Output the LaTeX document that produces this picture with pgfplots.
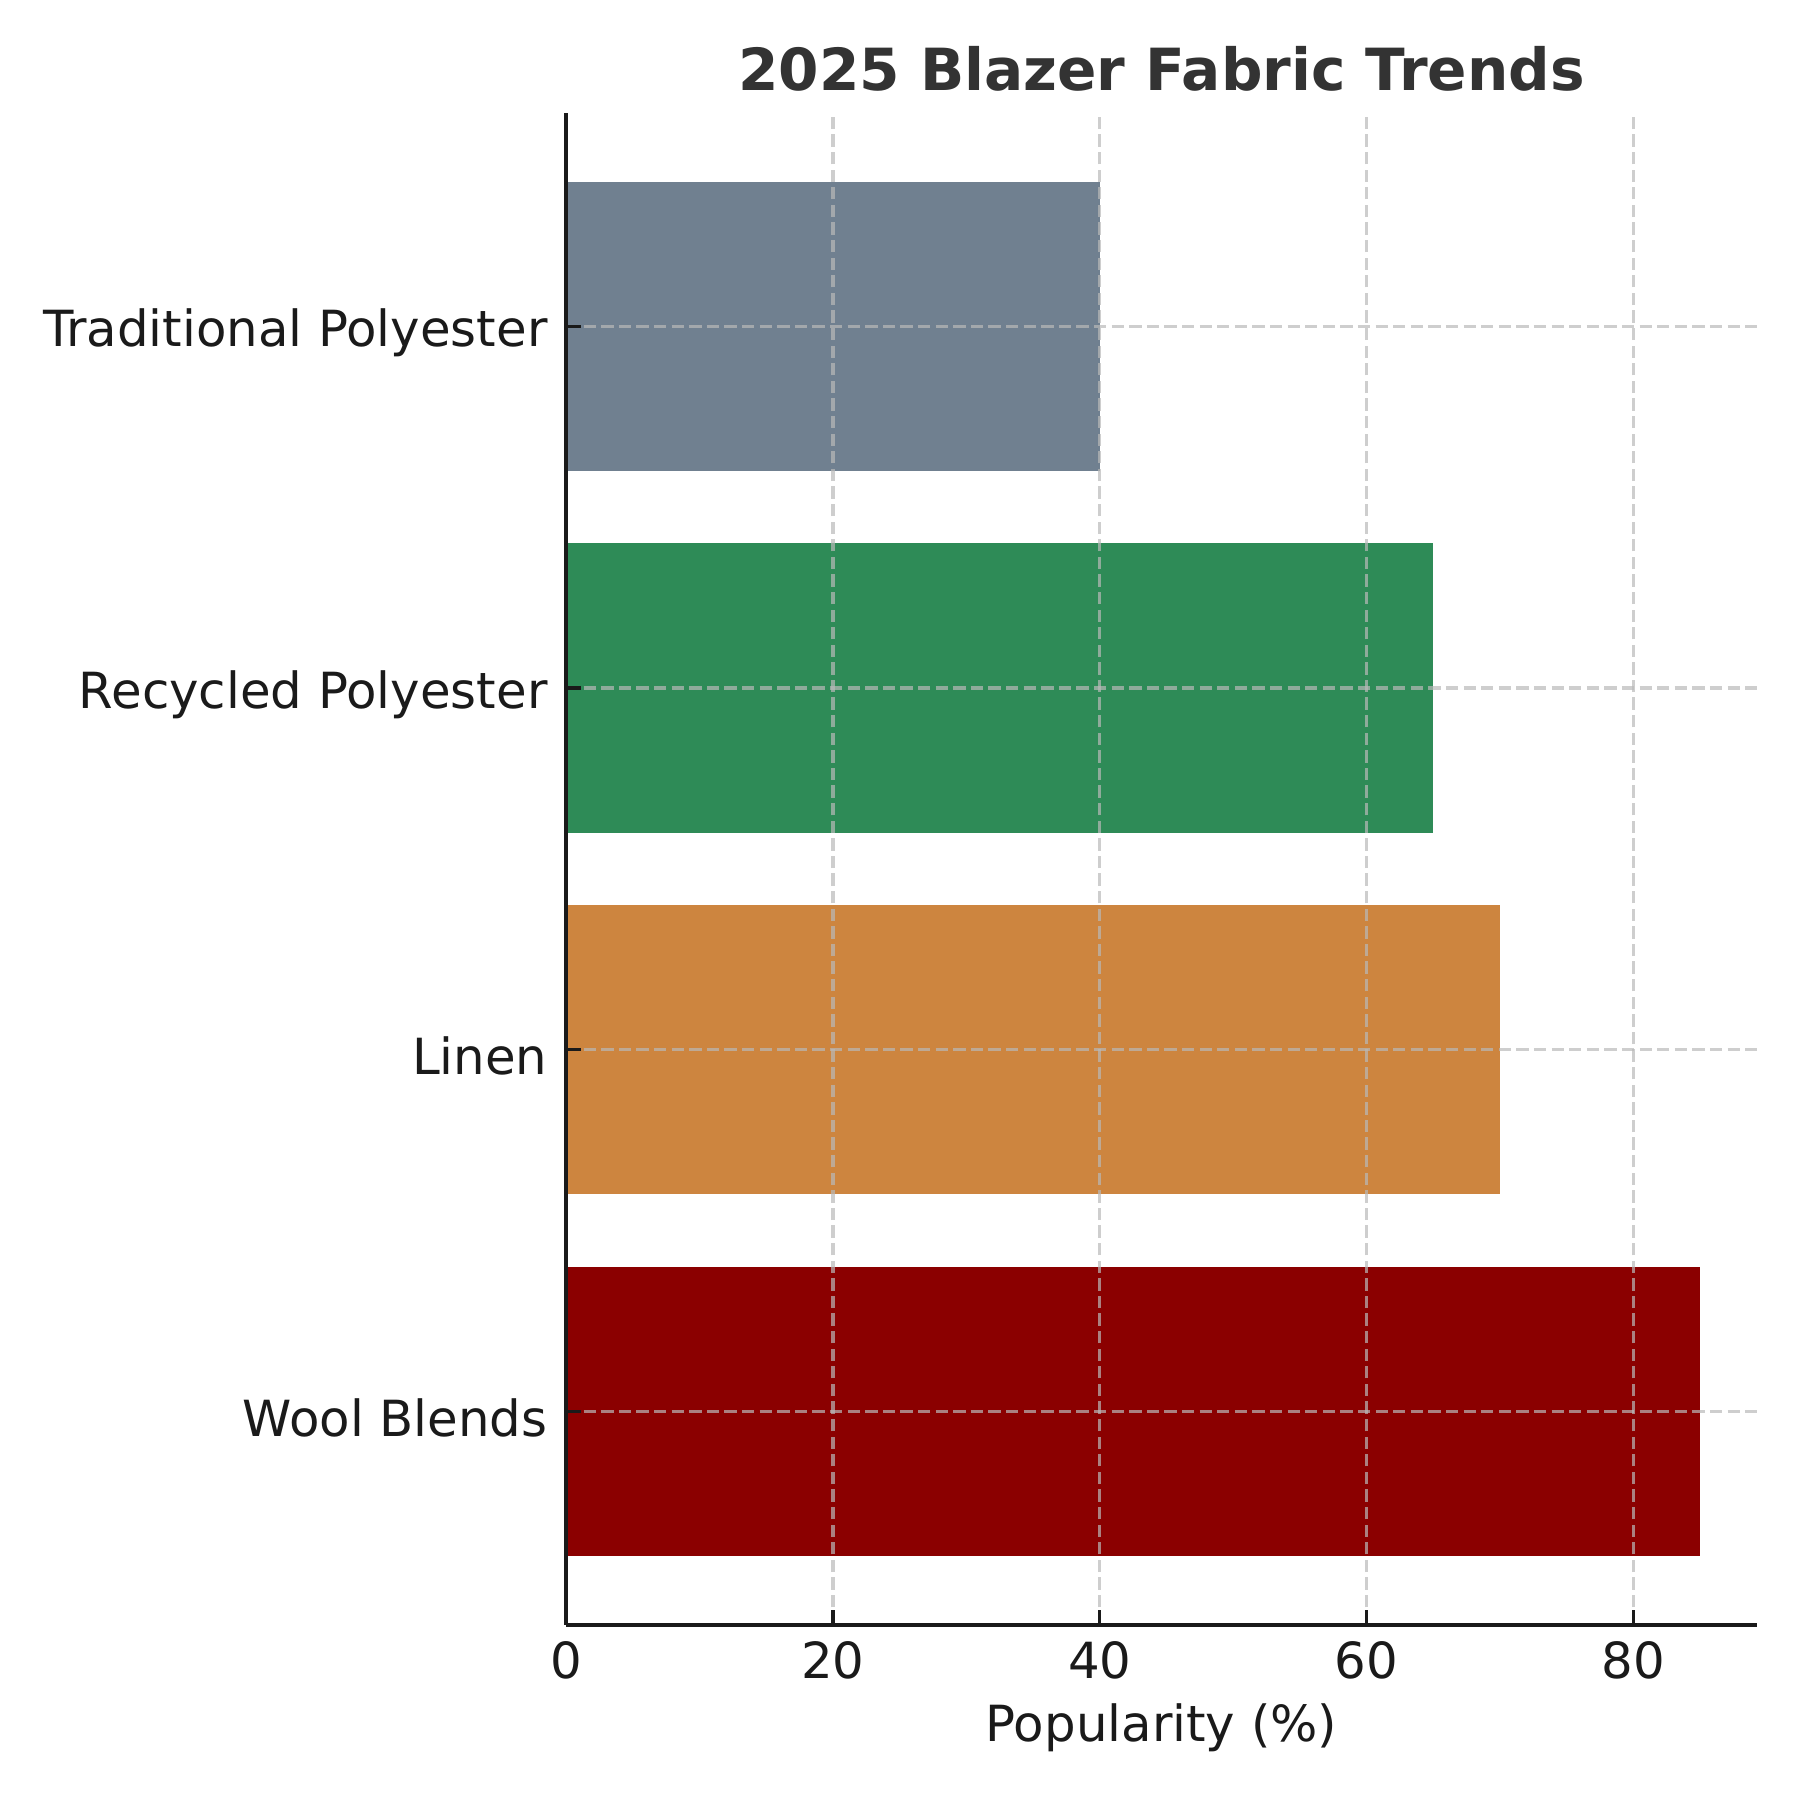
\documentclass[border=0pt]{standalone}
\usepackage{fontspec}
\setmainfont{DejaVu Sans}
\usepackage{pgfplots}
\pgfplotsset{compat=1.18}

\definecolor{slategray}{HTML}{708090}
\definecolor{seagreen}{HTML}{2E8B57}
\definecolor{peru}{HTML}{CD853F}
\definecolor{darkred}{HTML}{8B0000}
\definecolor{txt}{HTML}{1A1A1A}
\definecolor{ttl}{HTML}{333333}

\begin{document}
\begin{tikzpicture}
  \path[use as bounding box] (-136.4pt,-42.2pt) rectangle (297.2pt,391.5pt);
  \begin{axis}[
    at={(0,0)}, anchor=south west,
    scale only axis,
    width=286.9pt, height=364.3pt,
    xbar, bar shift=0pt, bar width=0.8,
    xmin=0, xmax=89.25,
    ymin=-0.59, ymax=3.59,
    axis x line*=bottom, axis y line*=left,
    axis line style={txt, line width=0.8pt},
    tick style={txt, line width=0.8pt},
    tick align=inside,
    major tick length=3.5pt,
    xtick={0,20,40,60,80},
    ytick={0,1,2,3},
    yticklabels={Wool Blends, Linen, Recycled Polyester, Traditional Polyester},
    /pgf/number format/assume math mode=true,
    ticklabel style={font=\fontsize{12}{14}\selectfont, text=txt},
    xticklabel style={anchor=north, inner sep=0pt, yshift=-3.85pt},
    yticklabel style={anchor=east, inner sep=0pt, xshift=-4.3pt, yshift=-1.6pt},
    grid=major,
    major grid style={color=gray!55, opacity=0.7, line width=0.8pt, dash pattern=on 2.96pt off 1.28pt},
    axis on top,
    title={2025 Blazer Fabric Trends},
    title style={font=\bfseries\fontsize{14}{17}\selectfont, text=ttl, at={(axis description cs:0.5,1)}, anchor=base, yshift=-0.5pt},
    xlabel={Popularity (\%)},
    xlabel style={font=\fontsize{12}{14}\selectfont, text=txt, at={(axis description cs:0.5,0)}, anchor=base, yshift=-28.2pt},
  ]
    \addplot[fill=darkred, draw=none] coordinates {(85,0)};
    \addplot[fill=peru, draw=none] coordinates {(70,1)};
    \addplot[fill=seagreen, draw=none] coordinates {(65,2)};
    \addplot[fill=slategray, draw=none] coordinates {(40,3)};
  \end{axis}
\end{tikzpicture}
\end{document}
